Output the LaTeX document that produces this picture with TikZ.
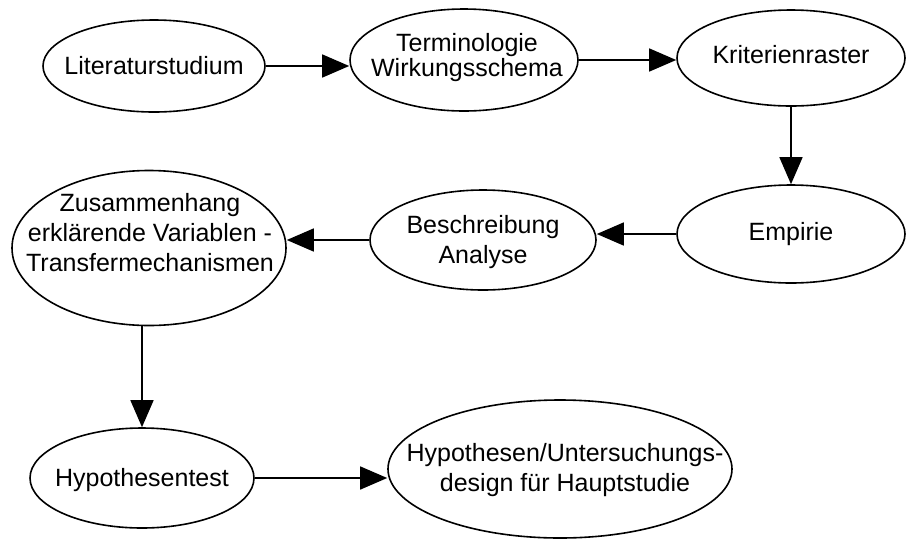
\documentclass[tikz,border=0pt]{standalone}
\usepackage{fontspec}
\setmainfont{Liberation Sans}
\usetikzlibrary{shapes.geometric,arrows.meta}
\begin{document}
\begin{tikzpicture}[x=1pt,y=-1pt,
  oval/.style={draw, ellipse, line width=1.6pt, inner sep=0pt},
  lbl/.style={font=\fontsize{25}{30}\selectfont, align=center, inner sep=0pt},
  arr/.style={line width=1.5pt, -{Triangle[length=27pt,width=23pt]}}]
\useasboundingbox (0,0) rectangle (914,542);
% ellipses
\node[oval, minimum width=222pt, minimum height=92pt] (lit) at (154,66) {};
\node[oval, minimum width=228pt, minimum height=102pt] (term) at (464,60) {};
\node[oval, minimum width=228pt, minimum height=96pt] (krit) at (791,58) {};
\node[oval, minimum width=228pt, minimum height=98pt] (emp) at (791,234) {};
\node[oval, minimum width=226pt, minimum height=100pt] (besch) at (483,240) {};
\node[oval, minimum width=274pt, minimum height=155pt] (zus) at (149,248) {};
\node[oval, minimum width=224pt, minimum height=100pt] (hyp) at (142,478) {};
\node[oval, minimum width=344pt, minimum height=138pt] (des) at (560,469) {};
% labels
\node[lbl] (tlit) at (lit) {Literaturstudium};
\node[lbl, font=\fontsize{25}{25}\selectfont] (tterm) at (467,58) {Terminologie\\Wirkungsschema};
\node[lbl] (tkrit) at (791,55) {Kriterienraster};
\node[lbl] (temp) at (emp) {Empirie};
\node[lbl] (tbesch) at (483,242) {Beschreibung\\Analyse};
\node[lbl] (tzus) at (150,233) {Zusammenhang\\erklärende Variablen -\\Transfermechanismen};
\node[lbl] (thyp) at (142,480) {Hypothesentest};
\node[lbl] (tdes) at (565,470) {Hypothesen/Untersuchungs-\\design für Hauptstudie};
% connectors
\draw[arr] (lit.east) -- (lit.east -| term.west);
\draw[arr] (term.east) -- (term.east -| krit.west);
\draw[arr] (krit.south) -- (emp.north);
\draw[arr] (emp.west) -- (emp.west -| besch.east);
\draw[arr] (besch.west) -- (besch.west -| zus.east);
\draw[arr] (hyp.north |- zus.south) -- (hyp.north);
\draw[arr] (hyp.east) -- (hyp.east -| des.west);
\end{tikzpicture}
\end{document}
